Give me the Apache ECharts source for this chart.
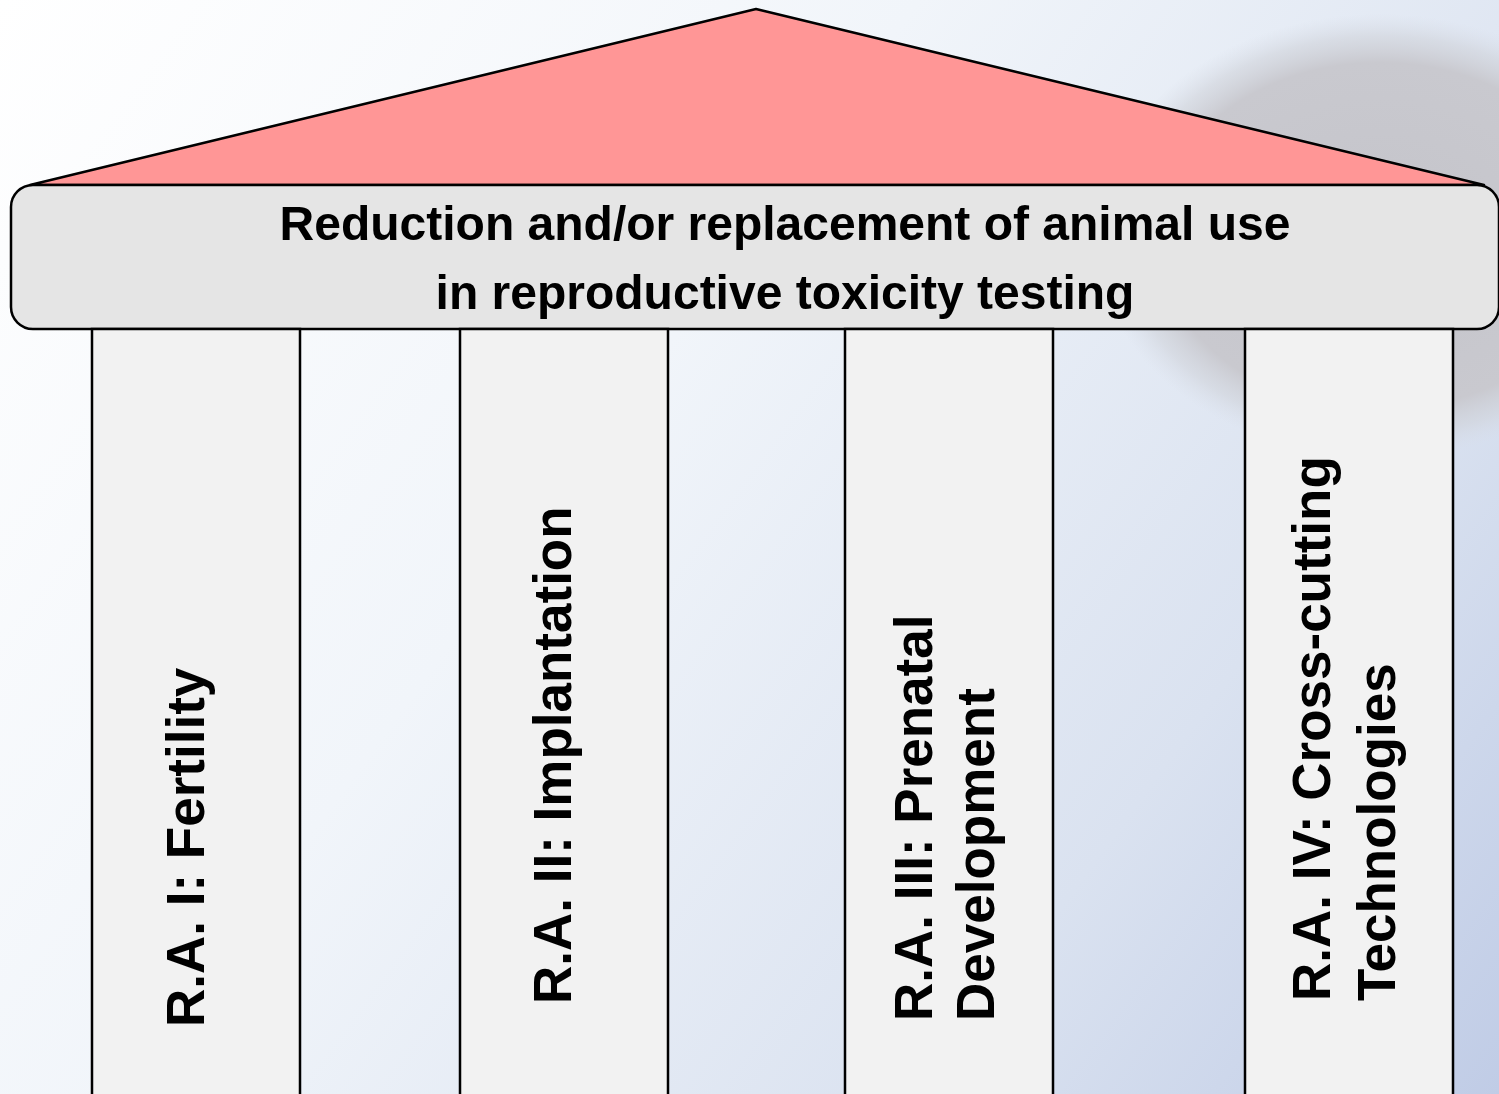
<!DOCTYPE html>
<html>
<head>
<meta charset="utf-8">
<title>Reduction and/or replacement of animal use</title>
<script src="https://cdn.jsdelivr.net/npm/echarts@6/dist/echarts.min.js"></script>
<style>
  html, body { margin: 0; padding: 0; background: #fff; }
  #chart { width: 1499px; height: 1094px; }
</style>
</head>
<body>
<div id="chart"></div>
<script>
// texts
const bannerLines = ['Reduction and/or replacement of animal use', 'in reproductive toxicity testing'];
const pillarLabels = [
  ['R.A. I: Fertility'],
  ['R.A. II: Implantation'],
  ['R.A. III: Prenatal', 'Development'],
  ['R.A. IV: Cross-cutting', 'Technologies']
];

// layout (in page pixels, mapped through the hidden axes)
const roofPoints = [[30, 185], [756, 9], [1484, 185]];
const bannerBox = [11, 185, 1499, 329];
const bannerBaselines = [243, 312];
const bannerCenter = 785;
const pillarLeft = [92, 460, 845, 1245];
const pillarWidth = 208;
const pillarTextStart = [1027, 1004, 1021, 1001];
const pillarBaselines = [[208], [575], [936, 998], [1334, 1399]];

const FONT = '"Liberation Sans", Arial, sans-serif';
const W = 1499, H = 1094;

const chart = echarts.init(document.getElementById('chart'), null, { renderer: 'canvas' });

function roofItem(params, api) {
  const pts = roofPoints.map(p => api.coord(p));
  return {
    type: 'polygon',
    shape: { points: pts },
    style: { fill: '#FF9696', stroke: '#000', lineWidth: 2.5, lineJoin: 'round' }
  };
}

function bannerItem(params, api) {
  const a = api.coord([bannerBox[0], bannerBox[1]]);
  const b = api.coord([bannerBox[2], bannerBox[3]]);
  const children = [{
    type: 'rect',
    shape: { x: a[0], y: a[1], width: b[0] - a[0], height: b[1] - a[1], r: 22 },
    style: { fill: '#E5E5E5', stroke: '#000', lineWidth: 2.5 }
  }];
  bannerLines.forEach((line, i) => {
    const p = api.coord([bannerCenter, bannerBaselines[i]]);
    children.push({
      type: 'text',
      x: p[0],
      y: p[1] - 0.3465 * 48,
      style: {
        text: line, font: 'bold 48px ' + FONT, fill: '#000',
        align: 'center', verticalAlign: 'middle'
      }
    });
  });
  return { type: 'group', children };
}

function pillarItem(params, api) {
  const i = api.value(0);
  const top = api.coord([pillarLeft[i], bannerBox[3]]);
  const bot = api.coord([pillarLeft[i] + pillarWidth, H + 10]);
  const children = [{
    type: 'rect',
    shape: { x: top[0], y: top[1], width: bot[0] - top[0], height: bot[1] - top[1] },
    style: { fill: '#F2F2F2', stroke: '#000', lineWidth: 2.5 }
  }];
  pillarLabels[i].forEach((line, j) => {
    const p = api.coord([pillarBaselines[i][j], pillarTextStart[i]]);
    children.push({
      type: 'text',
      x: p[0] - 0.3465 * 53,
      y: p[1],
      rotation: Math.PI / 2,
      style: {
        text: line, font: 'bold 53px ' + FONT, fill: '#000',
        align: 'left', verticalAlign: 'middle'
      }
    });
  });
  return { type: 'group', children };
}

chart.setOption({
  animation: false,
  grid: { left: 0, right: 0, top: 0, bottom: 0 },
  xAxis: { type: 'value', min: 0, max: W, show: false },
  yAxis: { type: 'value', min: 0, max: H, inverse: true, show: false },
  graphic: [
    {
      type: 'rect', z: 0, silent: true,
      shape: { x: 0, y: 0, width: W, height: H },
      style: {
        fill: new echarts.graphic.LinearGradient(0, 0, 1, 1, [
          { offset: 0, color: '#FFFFFF' },
          { offset: 0.4, color: '#F1F5FA' },
          { offset: 0.75, color: '#DAE2F0' },
          { offset: 1, color: '#C0CCE6' }
        ])
      }
    },
    {
      // blurred grey shape behind the roof on the right
      type: 'circle', z: 0, silent: true,
      x: 1380, y: 236, scaleY: 0.78,
      shape: { cx: 0, cy: 0, r: 285 },
      style: {
        fill: new echarts.graphic.RadialGradient(0.5, 0.5, 0.5, [
          { offset: 0, color: 'rgba(196,196,202,1)' },
          { offset: 0.78, color: 'rgba(201,201,207,1)' },
          { offset: 0.9, color: 'rgba(208,211,218,0.6)' },
          { offset: 1, color: 'rgba(215,220,230,0)' }
        ])
      }
    }
  ],
  series: [
    { type: 'custom', z: 5, silent: true, renderItem: roofItem, data: [[0]] },
    { type: 'custom', z: 6, silent: true, renderItem: bannerItem, data: [[0]] },
    { type: 'custom', z: 7, silent: true, renderItem: pillarItem, data: pillarLabels.map((l, i) => [i]) }
  ]
});
</script>
</body>
</html>
